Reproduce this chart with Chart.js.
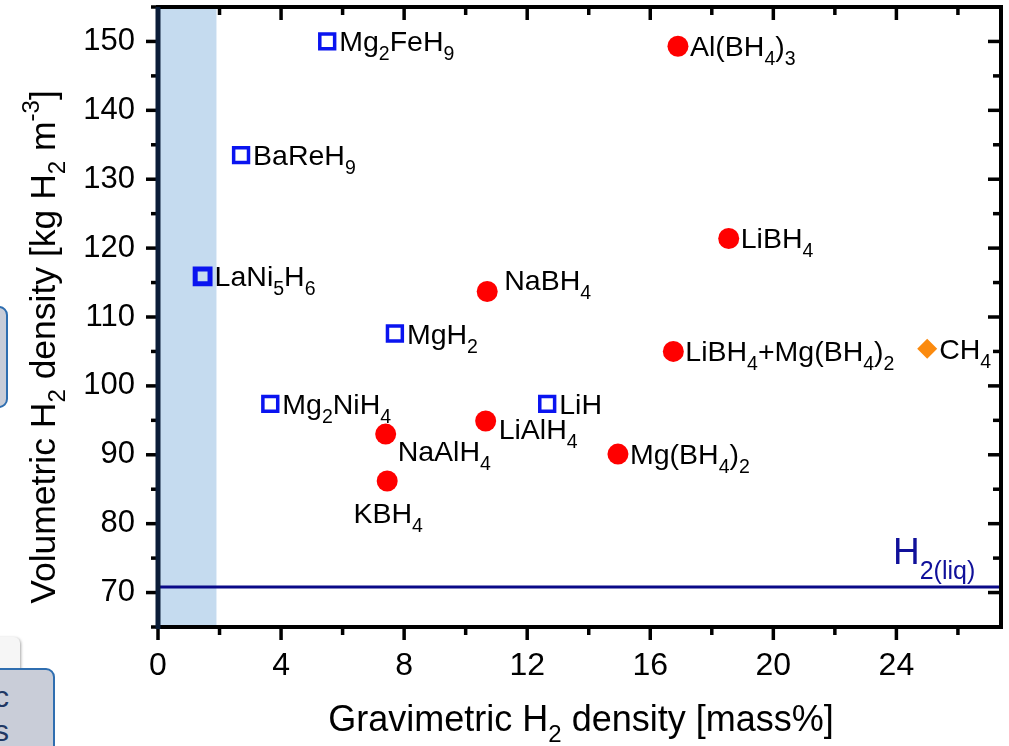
<!DOCTYPE html>
<html>

<head>
    <title>hydrogen_density</title>
    <script src="https://cdn.jsdelivr.net/npm/chart.js"></script>
    <style>
        body {
            margin: 0;
            background: #fff;
            overflow: hidden;
        }

        #wrap {
            position: relative;
            width: 1009px;
            height: 746px;
        }

        #chartCanvas {
            position: absolute;
            left: 0;
            top: 0;
        }

        .slideBox {
            position: absolute;
            border: 2px solid #2f6eb0;
            border-radius: 9px;
            background: #c9cdd8;
            overflow: hidden;
        }
    </style>
</head>

<body>
    <div id="wrap">
        <canvas id="chartCanvas" width="1009" height="746"></canvas>
        <div class="slideBox" style="left:-24px;top:306px;width:28px;height:98px;"></div>
        <div style="position:absolute;left:-20px;top:637px;width:40px;height:78px;background:#f6f6f6;border-radius:6px;box-shadow:1px 1px 3px rgba(0,0,0,0.35);"></div>
        <div class="slideBox" style="left:-24px;top:668px;width:75px;height:100px;">
            <div style="position:absolute;right:44px;top:10px;font:30px 'Liberation Sans';color:#1f3864;line-height:34px;text-align:right;">ic<br>s</div>
        </div>
    </div>
    <script>
        // metal hydrides (open squares)
        const hydrideNames = ['Mg_2FeH_9', 'BaReH_9', 'LaNi_5H_6', 'MgH_2', 'Mg_2NiH_4', 'LiH'];
        const hydrideX = [5.5, 2.7, 1.45, 7.7, 3.65, 12.65];
        const hydrideY = [150, 133.5, 115.9, 107.6, 97.4, 97.4];

        // complex hydrides (red dots)
        const complexNames = ['Al(BH_4)_3', 'LiBH_4', 'NaBH_4', 'LiBH_4+Mg(BH_4)_2', 'LiAlH_4', 'NaAlH_4', 'Mg(BH_4)_2', 'KBH_4'];
        const complexX = [16.9, 18.55, 10.7, 16.75, 10.65, 7.4, 14.95, 7.45];
        const complexY = [149.3, 121.4, 113.7, 105.0, 94.9, 93.0, 90.1, 86.2];

        // hydrocarbon (orange diamond)
        const fuelNames = ['CH_4'];
        const fuelX = [25.0];
        const fuelY = [105.4];

        const liquidH2 = 70.8;
        const liquidLabel = 'H_{2(liq)}';
        const shadeLimit = 1.9;

        const xMin = 0, xMax = 27.4;
        const yMin = 65, yMax = 155;
        const xTicks = [0, 4, 8, 12, 16, 20, 24];
        const xMinor = [2, 6, 10, 14, 18, 22, 26];
        const yTicks = [70, 80, 90, 100, 110, 120, 130, 140, 150];
        const yMinor = [65, 75, 85, 95, 105, 115, 125, 135, 145, 155];

        const xTitle = 'Gravimetric H_2 density [mass%]';
        const yTitle = 'Volumetric H_2 density [kg H_2 m^{-3}]';

        // label offsets from the marker: dx, dy, align
        const labelPlace = {
            'NaBH_4': [17, -12, 'left'],
            'LiAlH_4': [13, 8, 'left'],
            'NaAlH_4': [12, 17, 'left'],
            'KBH_4': [1, 32, 'center']
        };

        const SANS = "'Liberation Sans', Arial, sans-serif";

        function toPoints(xs, ys) {
            return xs.map((v, i) => ({ x: v, y: ys[i] }));
        }

        // split "Mg_2FeH_9" / "m^{-3}" into normal, sub and sup runs
        function parseRich(str) {
            const segs = [];
            let i = 0;
            while (i < str.length) {
                const c = str[i];
                if (c === '_' || c === '^') {
                    const mode = c === '_' ? 1 : 2;
                    let t;
                    if (str[i + 1] === '{') {
                        const end = str.indexOf('}', i);
                        t = str.slice(i + 2, end);
                        i = end + 1;
                    } else {
                        t = str[i + 1];
                        i += 2;
                    }
                    segs.push({ t: t, mode: mode });
                } else {
                    let j = i;
                    while (j < str.length && str[j] !== '_' && str[j] !== '^') j++;
                    segs.push({ t: str.slice(i, j), mode: 0 });
                    i = j;
                }
            }
            return segs;
        }

        function drawRich(ctx, str, x, y, o) {
            const size = o.size, small = o.small || size * 0.7;
            const subShift = o.subShift || size * 0.3, supShift = o.supShift || size * 0.42;
            const segs = parseRich(str);
            const fontOf = m => (m ? small : size) + 'px ' + o.family;
            let w = 0;
            segs.forEach(s => { ctx.font = fontOf(s.mode); w += ctx.measureText(s.t).width; });
            let cx = x;
            if (o.align === 'center') cx = x - w / 2;
            else if (o.align === 'right') cx = x - w;
            ctx.fillStyle = o.color || '#000';
            ctx.textAlign = 'left';
            ctx.textBaseline = 'alphabetic';
            segs.forEach(s => {
                ctx.font = fontOf(s.mode);
                const dy = s.mode === 1 ? subShift : (s.mode === 2 ? -supShift : 0);
                ctx.fillText(s.t, cx, y + dy);
                cx += ctx.measureText(s.t).width;
            });
            return w;
        }

        const backdrop = {
            id: 'backdrop',
            beforeDatasetsDraw(chart) {
                const { ctx, chartArea: a, scales: { x } } = chart;
                ctx.save();
                ctx.fillStyle = '#c5dbef';
                const px = x.getPixelForValue(shadeLimit);
                ctx.fillRect(a.left, a.top, px - a.left, a.height);
                ctx.restore();
            }
        };

        const pointLabels = {
            id: 'pointLabels',
            afterDatasetsDraw(chart) {
                const ctx = chart.ctx;
                ctx.save();
                chart.data.datasets.forEach((ds, di) => {
                    if (!ds.names) return;
                    chart.getDatasetMeta(di).data.forEach((pt, i) => {
                        const name = ds.names[i];
                        const p = labelPlace[name] || [12, 0, 'left'];
                        drawRich(ctx, name, pt.x + p[0], pt.y + p[1] + 10, {
                            size: 28.5, small: 19.5, subShift: 9, family: SANS, align: p[2]
                        });
                    });
                });
                const { chartArea: a, scales: { y } } = chart;
                drawRich(ctx, liquidLabel, a.right - 108, y.getPixelForValue(liquidH2) - 23, {
                    size: 37, small: 25, subShift: 15, family: SANS, color: '#10109a', align: 'left'
                });
                ctx.restore();
            }
        };

        const frame = {
            id: 'frame',
            afterDraw(chart) {
                const { ctx, chartArea: a, scales: { x, y } } = chart;
                ctx.save();
                ctx.strokeStyle = '#000';
                ctx.lineWidth = 3.5;
                const seg = (x1, y1, x2, y2) => {
                    ctx.beginPath();
                    ctx.moveTo(x1, y1);
                    ctx.lineTo(x2, y2);
                    ctx.stroke();
                };
                xTicks.forEach(v => {
                    const px = x.getPixelForValue(v);
                    seg(px, a.bottom, px, a.bottom + 13);
                    seg(px, a.top, px, a.top + 13);
                });
                xMinor.forEach(v => {
                    const px = x.getPixelForValue(v);
                    seg(px, a.bottom, px, a.bottom + 8);
                    seg(px, a.top, px, a.top + 8);
                });
                yTicks.forEach(v => {
                    const py = y.getPixelForValue(v);
                    seg(a.left - 12, py, a.left, py);
                    seg(a.right - 13, py, a.right, py);
                });
                yMinor.forEach(v => {
                    const py = y.getPixelForValue(v);
                    seg(a.left - 7, py, a.left, py);
                    seg(a.right - 8, py, a.right, py);
                });
                ctx.lineWidth = 4;
                seg(a.left - 2, a.top, a.right + 2, a.top);
                seg(a.right, a.top, a.right, a.bottom);
                seg(a.left - 2, a.bottom, a.right + 2, a.bottom);
                ctx.strokeStyle = '#0b1d38';
                ctx.lineWidth = 5;
                seg(a.left, a.top, a.left, a.bottom + 2);

                // axis titles
                drawRich(ctx, xTitle, 581, 731, {
                    size: 36, small: 24, subShift: 11, family: SANS, align: 'center'
                });
                ctx.translate(55, 347);
                ctx.rotate(-Math.PI / 2);
                drawRich(ctx, yTitle, 0, 0, {
                    size: 35.5, small: 24, subShift: 10, supShift: 16, family: SANS, align: 'center'
                });
                ctx.restore();
            }
        };

        new Chart(document.getElementById('chartCanvas'), {
            type: 'scatter',
            data: {
                datasets: [{
                    type: 'line',
                    label: 'H2 liquid',
                    data: [{ x: xMin, y: liquidH2 }, { x: xMax, y: liquidH2 }],
                    borderColor: '#0a0a88',
                    borderWidth: 3,
                    pointRadius: 0,
                    fill: false
                }, {
                    label: 'metal hydrides',
                    names: hydrideNames,
                    data: toPoints(hydrideX, hydrideY),
                    pointStyle: 'rect',
                    pointRadius: 10.5,
                    pointBorderWidth: [3.5, 3.5, 5, 3.5, 3.5, 3.5],
                    pointBorderColor: '#0a14f0',
                    pointBackgroundColor: 'rgba(255,255,255,0)'
                }, {
                    label: 'complex hydrides',
                    names: complexNames,
                    data: toPoints(complexX, complexY),
                    pointStyle: 'circle',
                    pointRadius: 10.5,
                    pointBorderWidth: 0,
                    pointBackgroundColor: '#ff0000'
                }, {
                    label: 'hydrocarbon',
                    names: fuelNames,
                    data: toPoints(fuelX, fuelY),
                    pointStyle: 'rectRot',
                    pointRadius: 10,
                    pointBorderWidth: 0,
                    pointBackgroundColor: '#fb8a0e'
                }]
            },
            options: {
                responsive: false,
                animation: false,
                layout: { autoPadding: false, padding: { top: 7, right: 8, left: 0, bottom: 0 } },
                plugins: {
                    legend: { display: false },
                    tooltip: { enabled: false }
                },
                scales: {
                    x: {
                        type: 'linear',
                        min: xMin,
                        max: xMax,
                        grid: { display: false },
                        border: { display: false },
                        afterBuildTicks: s => { s.ticks = xTicks.map(v => ({ value: v })); },
                        afterFit: s => {
                            s.height = 119;
                            s.paddingLeft = 0;
                            s.paddingRight = 0;
                        },
                        ticks: {
                            font: { family: SANS, size: 32 },
                            color: '#000',
                            padding: 12,
                            maxRotation: 0,
                            autoSkip: false
                        }
                    },
                    y: {
                        type: 'linear',
                        min: yMin,
                        max: yMax,
                        grid: { display: false },
                        border: { display: false },
                        afterBuildTicks: s => { s.ticks = yTicks.map(v => ({ value: v })); },
                        afterFit: s => {
                            s.width = 158;
                            s.paddingTop = 0;
                            s.paddingBottom = 0;
                        },
                        ticks: {
                            font: { family: SANS, size: 31 },
                            color: '#000',
                            padding: 15,
                            autoSkip: false
                        }
                    }
                }
            },
            plugins: [backdrop, pointLabels, frame]
        });
    </script>
</body>

</html>
